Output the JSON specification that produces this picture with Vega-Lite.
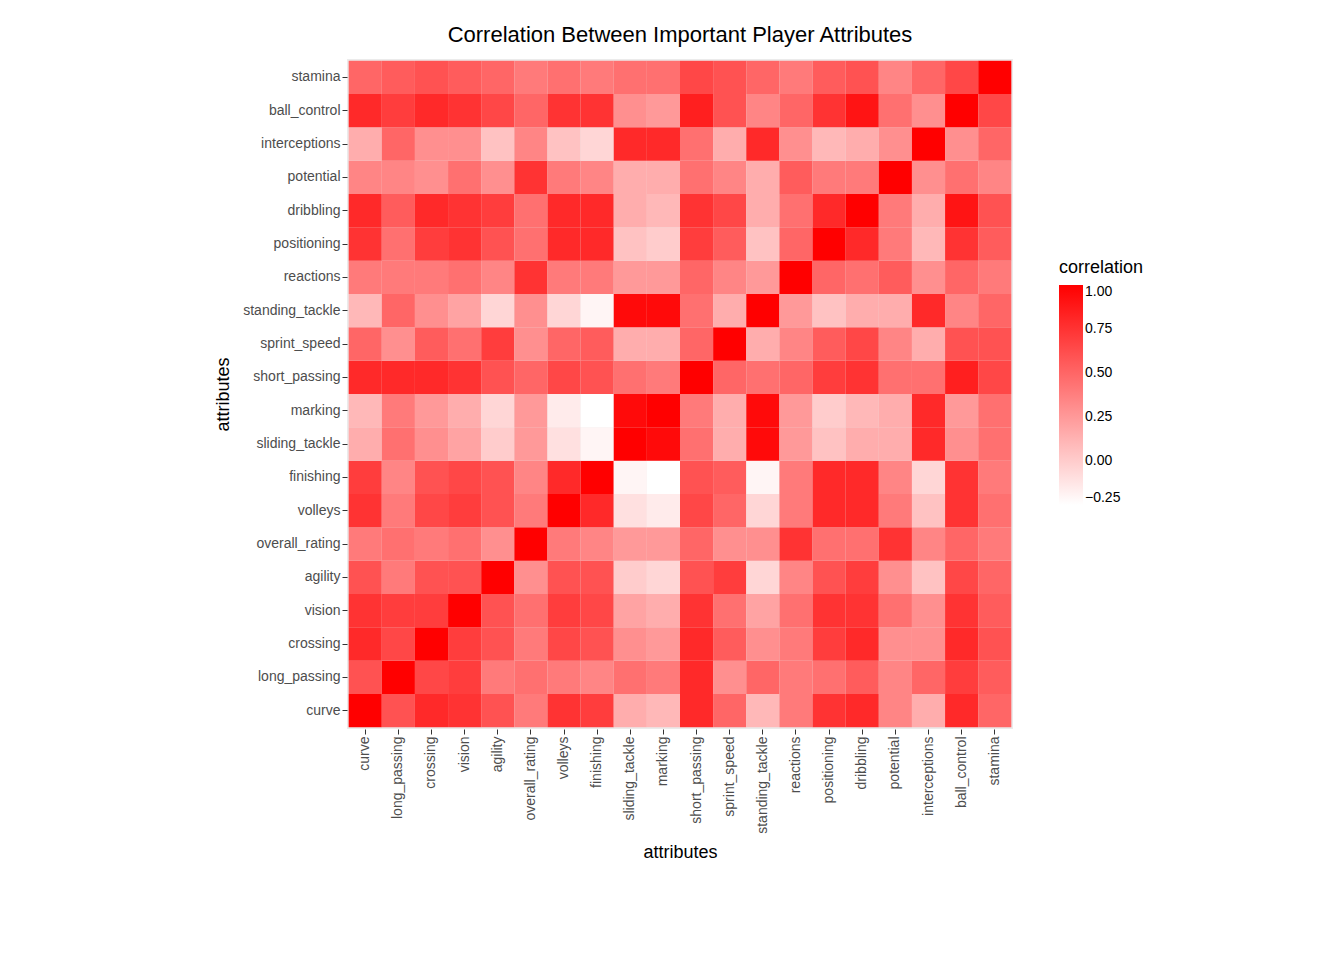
{
"$schema":"https://vega.github.io/schema/vega-lite/v6.json",
"width":666,"height":670,
"background":"white",
"padding":{"left":214,"top":24,"right":30,"bottom":10},
"title":{"text":"Correlation Between Important Player Attributes","fontSize":22,"font":"Liberation Sans","fontWeight":"normal","color":"black","anchor":"middle","offset":12},
"data":{"values":[
{"y":"curve","x":"curve","v":1},{"y":"curve","x":"long_passing","v":0.6},{"y":"curve","x":"crossing","v":0.8},{"y":"curve","x":"vision","v":0.75},{"y":"curve","x":"agility","v":0.6},{"y":"curve","x":"overall_rating","v":0.4},{"y":"curve","x":"volleys","v":0.75},{"y":"curve","x":"finishing","v":0.7},{"y":"curve","x":"sliding_tackle","v":0.15},{"y":"curve","x":"marking","v":0.1},{"y":"curve","x":"short_passing","v":0.8},{"y":"curve","x":"sprint_speed","v":0.5},{"y":"curve","x":"standing_tackle","v":0.1},{"y":"curve","x":"reactions","v":0.4},{"y":"curve","x":"positioning","v":0.75},{"y":"curve","x":"dribbling","v":0.8},{"y":"curve","x":"potential","v":0.35},{"y":"curve","x":"interceptions","v":0.15},{"y":"curve","x":"ball_control","v":0.8},{"y":"curve","x":"stamina","v":0.5},
{"y":"long_passing","x":"curve","v":0.6},{"y":"long_passing","x":"long_passing","v":1},{"y":"long_passing","x":"crossing","v":0.65},{"y":"long_passing","x":"vision","v":0.7},{"y":"long_passing","x":"agility","v":0.4},{"y":"long_passing","x":"overall_rating","v":0.45},{"y":"long_passing","x":"volleys","v":0.4},{"y":"long_passing","x":"finishing","v":0.35},{"y":"long_passing","x":"sliding_tackle","v":0.45},{"y":"long_passing","x":"marking","v":0.4},{"y":"long_passing","x":"short_passing","v":0.8},{"y":"long_passing","x":"sprint_speed","v":0.3},{"y":"long_passing","x":"standing_tackle","v":0.5},{"y":"long_passing","x":"reactions","v":0.4},{"y":"long_passing","x":"positioning","v":0.45},{"y":"long_passing","x":"dribbling","v":0.55},{"y":"long_passing","x":"potential","v":0.35},{"y":"long_passing","x":"interceptions","v":0.5},{"y":"long_passing","x":"ball_control","v":0.7},{"y":"long_passing","x":"stamina","v":0.55},
{"y":"crossing","x":"curve","v":0.8},{"y":"crossing","x":"long_passing","v":0.65},{"y":"crossing","x":"crossing","v":1},{"y":"crossing","x":"vision","v":0.7},{"y":"crossing","x":"agility","v":0.6},{"y":"crossing","x":"overall_rating","v":0.4},{"y":"crossing","x":"volleys","v":0.65},{"y":"crossing","x":"finishing","v":0.6},{"y":"crossing","x":"sliding_tackle","v":0.3},{"y":"crossing","x":"marking","v":0.25},{"y":"crossing","x":"short_passing","v":0.8},{"y":"crossing","x":"sprint_speed","v":0.55},{"y":"crossing","x":"standing_tackle","v":0.3},{"y":"crossing","x":"reactions","v":0.4},{"y":"crossing","x":"positioning","v":0.7},{"y":"crossing","x":"dribbling","v":0.8},{"y":"crossing","x":"potential","v":0.3},{"y":"crossing","x":"interceptions","v":0.3},{"y":"crossing","x":"ball_control","v":0.8},{"y":"crossing","x":"stamina","v":0.6},
{"y":"vision","x":"curve","v":0.75},{"y":"vision","x":"long_passing","v":0.7},{"y":"vision","x":"crossing","v":0.7},{"y":"vision","x":"vision","v":1},{"y":"vision","x":"agility","v":0.6},{"y":"vision","x":"overall_rating","v":0.45},{"y":"vision","x":"volleys","v":0.7},{"y":"vision","x":"finishing","v":0.65},{"y":"vision","x":"sliding_tackle","v":0.2},{"y":"vision","x":"marking","v":0.15},{"y":"vision","x":"short_passing","v":0.75},{"y":"vision","x":"sprint_speed","v":0.45},{"y":"vision","x":"standing_tackle","v":0.2},{"y":"vision","x":"reactions","v":0.45},{"y":"vision","x":"positioning","v":0.75},{"y":"vision","x":"dribbling","v":0.75},{"y":"vision","x":"potential","v":0.45},{"y":"vision","x":"interceptions","v":0.3},{"y":"vision","x":"ball_control","v":0.75},{"y":"vision","x":"stamina","v":0.55},
{"y":"agility","x":"curve","v":0.6},{"y":"agility","x":"long_passing","v":0.4},{"y":"agility","x":"crossing","v":0.6},{"y":"agility","x":"vision","v":0.6},{"y":"agility","x":"agility","v":1},{"y":"agility","x":"overall_rating","v":0.3},{"y":"agility","x":"volleys","v":0.6},{"y":"agility","x":"finishing","v":0.6},{"y":"agility","x":"sliding_tackle","v":0.0},{"y":"agility","x":"marking","v":-0.05},{"y":"agility","x":"short_passing","v":0.6},{"y":"agility","x":"sprint_speed","v":0.7},{"y":"agility","x":"standing_tackle","v":-0.05},{"y":"agility","x":"reactions","v":0.35},{"y":"agility","x":"positioning","v":0.6},{"y":"agility","x":"dribbling","v":0.7},{"y":"agility","x":"potential","v":0.3},{"y":"agility","x":"interceptions","v":0.05},{"y":"agility","x":"ball_control","v":0.65},{"y":"agility","x":"stamina","v":0.5},
{"y":"overall_rating","x":"curve","v":0.4},{"y":"overall_rating","x":"long_passing","v":0.45},{"y":"overall_rating","x":"crossing","v":0.4},{"y":"overall_rating","x":"vision","v":0.45},{"y":"overall_rating","x":"agility","v":0.3},{"y":"overall_rating","x":"overall_rating","v":1},{"y":"overall_rating","x":"volleys","v":0.4},{"y":"overall_rating","x":"finishing","v":0.35},{"y":"overall_rating","x":"sliding_tackle","v":0.25},{"y":"overall_rating","x":"marking","v":0.25},{"y":"overall_rating","x":"short_passing","v":0.5},{"y":"overall_rating","x":"sprint_speed","v":0.3},{"y":"overall_rating","x":"standing_tackle","v":0.3},{"y":"overall_rating","x":"reactions","v":0.75},{"y":"overall_rating","x":"positioning","v":0.45},{"y":"overall_rating","x":"dribbling","v":0.45},{"y":"overall_rating","x":"potential","v":0.75},{"y":"overall_rating","x":"interceptions","v":0.35},{"y":"overall_rating","x":"ball_control","v":0.5},{"y":"overall_rating","x":"stamina","v":0.4},
{"y":"volleys","x":"curve","v":0.75},{"y":"volleys","x":"long_passing","v":0.4},{"y":"volleys","x":"crossing","v":0.65},{"y":"volleys","x":"vision","v":0.7},{"y":"volleys","x":"agility","v":0.6},{"y":"volleys","x":"overall_rating","v":0.4},{"y":"volleys","x":"volleys","v":1},{"y":"volleys","x":"finishing","v":0.8},{"y":"volleys","x":"sliding_tackle","v":-0.1},{"y":"volleys","x":"marking","v":-0.15},{"y":"volleys","x":"short_passing","v":0.65},{"y":"volleys","x":"sprint_speed","v":0.5},{"y":"volleys","x":"standing_tackle","v":-0.05},{"y":"volleys","x":"reactions","v":0.4},{"y":"volleys","x":"positioning","v":0.8},{"y":"volleys","x":"dribbling","v":0.8},{"y":"volleys","x":"potential","v":0.4},{"y":"volleys","x":"interceptions","v":0.05},{"y":"volleys","x":"ball_control","v":0.75},{"y":"volleys","x":"stamina","v":0.45},
{"y":"finishing","x":"curve","v":0.7},{"y":"finishing","x":"long_passing","v":0.35},{"y":"finishing","x":"crossing","v":0.6},{"y":"finishing","x":"vision","v":0.65},{"y":"finishing","x":"agility","v":0.6},{"y":"finishing","x":"overall_rating","v":0.35},{"y":"finishing","x":"volleys","v":0.8},{"y":"finishing","x":"finishing","v":1},{"y":"finishing","x":"sliding_tackle","v":-0.2},{"y":"finishing","x":"marking","v":-0.25},{"y":"finishing","x":"short_passing","v":0.6},{"y":"finishing","x":"sprint_speed","v":0.55},{"y":"finishing","x":"standing_tackle","v":-0.2},{"y":"finishing","x":"reactions","v":0.4},{"y":"finishing","x":"positioning","v":0.8},{"y":"finishing","x":"dribbling","v":0.8},{"y":"finishing","x":"potential","v":0.35},{"y":"finishing","x":"interceptions","v":-0.05},{"y":"finishing","x":"ball_control","v":0.75},{"y":"finishing","x":"stamina","v":0.4},
{"y":"sliding_tackle","x":"curve","v":0.15},{"y":"sliding_tackle","x":"long_passing","v":0.45},{"y":"sliding_tackle","x":"crossing","v":0.3},{"y":"sliding_tackle","x":"vision","v":0.2},{"y":"sliding_tackle","x":"agility","v":0.0},{"y":"sliding_tackle","x":"overall_rating","v":0.25},{"y":"sliding_tackle","x":"volleys","v":-0.1},{"y":"sliding_tackle","x":"finishing","v":-0.2},{"y":"sliding_tackle","x":"sliding_tackle","v":1},{"y":"sliding_tackle","x":"marking","v":0.95},{"y":"sliding_tackle","x":"short_passing","v":0.45},{"y":"sliding_tackle","x":"sprint_speed","v":0.15},{"y":"sliding_tackle","x":"standing_tackle","v":0.95},{"y":"sliding_tackle","x":"reactions","v":0.25},{"y":"sliding_tackle","x":"positioning","v":0.05},{"y":"sliding_tackle","x":"dribbling","v":0.15},{"y":"sliding_tackle","x":"potential","v":0.15},{"y":"sliding_tackle","x":"interceptions","v":0.8},{"y":"sliding_tackle","x":"ball_control","v":0.3},{"y":"sliding_tackle","x":"stamina","v":0.45},
{"y":"marking","x":"curve","v":0.1},{"y":"marking","x":"long_passing","v":0.4},{"y":"marking","x":"crossing","v":0.25},{"y":"marking","x":"vision","v":0.15},{"y":"marking","x":"agility","v":-0.05},{"y":"marking","x":"overall_rating","v":0.25},{"y":"marking","x":"volleys","v":-0.15},{"y":"marking","x":"finishing","v":-0.25},{"y":"marking","x":"sliding_tackle","v":0.95},{"y":"marking","x":"marking","v":1},{"y":"marking","x":"short_passing","v":0.4},{"y":"marking","x":"sprint_speed","v":0.15},{"y":"marking","x":"standing_tackle","v":0.95},{"y":"marking","x":"reactions","v":0.25},{"y":"marking","x":"positioning","v":0.0},{"y":"marking","x":"dribbling","v":0.1},{"y":"marking","x":"potential","v":0.15},{"y":"marking","x":"interceptions","v":0.8},{"y":"marking","x":"ball_control","v":0.25},{"y":"marking","x":"stamina","v":0.45},
{"y":"short_passing","x":"curve","v":0.8},{"y":"short_passing","x":"long_passing","v":0.8},{"y":"short_passing","x":"crossing","v":0.8},{"y":"short_passing","x":"vision","v":0.75},{"y":"short_passing","x":"agility","v":0.6},{"y":"short_passing","x":"overall_rating","v":0.5},{"y":"short_passing","x":"volleys","v":0.65},{"y":"short_passing","x":"finishing","v":0.6},{"y":"short_passing","x":"sliding_tackle","v":0.45},{"y":"short_passing","x":"marking","v":0.4},{"y":"short_passing","x":"short_passing","v":1},{"y":"short_passing","x":"sprint_speed","v":0.5},{"y":"short_passing","x":"standing_tackle","v":0.45},{"y":"short_passing","x":"reactions","v":0.5},{"y":"short_passing","x":"positioning","v":0.7},{"y":"short_passing","x":"dribbling","v":0.75},{"y":"short_passing","x":"potential","v":0.45},{"y":"short_passing","x":"interceptions","v":0.45},{"y":"short_passing","x":"ball_control","v":0.85},{"y":"short_passing","x":"stamina","v":0.65},
{"y":"sprint_speed","x":"curve","v":0.5},{"y":"sprint_speed","x":"long_passing","v":0.3},{"y":"sprint_speed","x":"crossing","v":0.55},{"y":"sprint_speed","x":"vision","v":0.45},{"y":"sprint_speed","x":"agility","v":0.7},{"y":"sprint_speed","x":"overall_rating","v":0.3},{"y":"sprint_speed","x":"volleys","v":0.5},{"y":"sprint_speed","x":"finishing","v":0.55},{"y":"sprint_speed","x":"sliding_tackle","v":0.15},{"y":"sprint_speed","x":"marking","v":0.15},{"y":"sprint_speed","x":"short_passing","v":0.5},{"y":"sprint_speed","x":"sprint_speed","v":1},{"y":"sprint_speed","x":"standing_tackle","v":0.15},{"y":"sprint_speed","x":"reactions","v":0.35},{"y":"sprint_speed","x":"positioning","v":0.55},{"y":"sprint_speed","x":"dribbling","v":0.65},{"y":"sprint_speed","x":"potential","v":0.35},{"y":"sprint_speed","x":"interceptions","v":0.15},{"y":"sprint_speed","x":"ball_control","v":0.6},{"y":"sprint_speed","x":"stamina","v":0.6},
{"y":"standing_tackle","x":"curve","v":0.1},{"y":"standing_tackle","x":"long_passing","v":0.5},{"y":"standing_tackle","x":"crossing","v":0.3},{"y":"standing_tackle","x":"vision","v":0.2},{"y":"standing_tackle","x":"agility","v":-0.05},{"y":"standing_tackle","x":"overall_rating","v":0.3},{"y":"standing_tackle","x":"volleys","v":-0.05},{"y":"standing_tackle","x":"finishing","v":-0.2},{"y":"standing_tackle","x":"sliding_tackle","v":0.95},{"y":"standing_tackle","x":"marking","v":0.95},{"y":"standing_tackle","x":"short_passing","v":0.45},{"y":"standing_tackle","x":"sprint_speed","v":0.15},{"y":"standing_tackle","x":"standing_tackle","v":1},{"y":"standing_tackle","x":"reactions","v":0.25},{"y":"standing_tackle","x":"positioning","v":0.05},{"y":"standing_tackle","x":"dribbling","v":0.15},{"y":"standing_tackle","x":"potential","v":0.15},{"y":"standing_tackle","x":"interceptions","v":0.8},{"y":"standing_tackle","x":"ball_control","v":0.35},{"y":"standing_tackle","x":"stamina","v":0.5},
{"y":"reactions","x":"curve","v":0.4},{"y":"reactions","x":"long_passing","v":0.4},{"y":"reactions","x":"crossing","v":0.4},{"y":"reactions","x":"vision","v":0.45},{"y":"reactions","x":"agility","v":0.35},{"y":"reactions","x":"overall_rating","v":0.75},{"y":"reactions","x":"volleys","v":0.4},{"y":"reactions","x":"finishing","v":0.4},{"y":"reactions","x":"sliding_tackle","v":0.25},{"y":"reactions","x":"marking","v":0.25},{"y":"reactions","x":"short_passing","v":0.5},{"y":"reactions","x":"sprint_speed","v":0.35},{"y":"reactions","x":"standing_tackle","v":0.25},{"y":"reactions","x":"reactions","v":1},{"y":"reactions","x":"positioning","v":0.5},{"y":"reactions","x":"dribbling","v":0.45},{"y":"reactions","x":"potential","v":0.55},{"y":"reactions","x":"interceptions","v":0.3},{"y":"reactions","x":"ball_control","v":0.5},{"y":"reactions","x":"stamina","v":0.4},
{"y":"positioning","x":"curve","v":0.75},{"y":"positioning","x":"long_passing","v":0.45},{"y":"positioning","x":"crossing","v":0.7},{"y":"positioning","x":"vision","v":0.75},{"y":"positioning","x":"agility","v":0.6},{"y":"positioning","x":"overall_rating","v":0.45},{"y":"positioning","x":"volleys","v":0.8},{"y":"positioning","x":"finishing","v":0.8},{"y":"positioning","x":"sliding_tackle","v":0.05},{"y":"positioning","x":"marking","v":0.0},{"y":"positioning","x":"short_passing","v":0.7},{"y":"positioning","x":"sprint_speed","v":0.55},{"y":"positioning","x":"standing_tackle","v":0.05},{"y":"positioning","x":"reactions","v":0.5},{"y":"positioning","x":"positioning","v":1},{"y":"positioning","x":"dribbling","v":0.8},{"y":"positioning","x":"potential","v":0.4},{"y":"positioning","x":"interceptions","v":0.1},{"y":"positioning","x":"ball_control","v":0.75},{"y":"positioning","x":"stamina","v":0.55},
{"y":"dribbling","x":"curve","v":0.8},{"y":"dribbling","x":"long_passing","v":0.55},{"y":"dribbling","x":"crossing","v":0.8},{"y":"dribbling","x":"vision","v":0.75},{"y":"dribbling","x":"agility","v":0.7},{"y":"dribbling","x":"overall_rating","v":0.45},{"y":"dribbling","x":"volleys","v":0.8},{"y":"dribbling","x":"finishing","v":0.8},{"y":"dribbling","x":"sliding_tackle","v":0.15},{"y":"dribbling","x":"marking","v":0.1},{"y":"dribbling","x":"short_passing","v":0.75},{"y":"dribbling","x":"sprint_speed","v":0.65},{"y":"dribbling","x":"standing_tackle","v":0.15},{"y":"dribbling","x":"reactions","v":0.45},{"y":"dribbling","x":"positioning","v":0.8},{"y":"dribbling","x":"dribbling","v":1},{"y":"dribbling","x":"potential","v":0.4},{"y":"dribbling","x":"interceptions","v":0.15},{"y":"dribbling","x":"ball_control","v":0.9},{"y":"dribbling","x":"stamina","v":0.6},
{"y":"potential","x":"curve","v":0.35},{"y":"potential","x":"long_passing","v":0.35},{"y":"potential","x":"crossing","v":0.3},{"y":"potential","x":"vision","v":0.45},{"y":"potential","x":"agility","v":0.3},{"y":"potential","x":"overall_rating","v":0.75},{"y":"potential","x":"volleys","v":0.4},{"y":"potential","x":"finishing","v":0.35},{"y":"potential","x":"sliding_tackle","v":0.15},{"y":"potential","x":"marking","v":0.15},{"y":"potential","x":"short_passing","v":0.45},{"y":"potential","x":"sprint_speed","v":0.35},{"y":"potential","x":"standing_tackle","v":0.15},{"y":"potential","x":"reactions","v":0.55},{"y":"potential","x":"positioning","v":0.4},{"y":"potential","x":"dribbling","v":0.4},{"y":"potential","x":"potential","v":1},{"y":"potential","x":"interceptions","v":0.3},{"y":"potential","x":"ball_control","v":0.45},{"y":"potential","x":"stamina","v":0.35},
{"y":"interceptions","x":"curve","v":0.15},{"y":"interceptions","x":"long_passing","v":0.5},{"y":"interceptions","x":"crossing","v":0.3},{"y":"interceptions","x":"vision","v":0.3},{"y":"interceptions","x":"agility","v":0.05},{"y":"interceptions","x":"overall_rating","v":0.35},{"y":"interceptions","x":"volleys","v":0.05},{"y":"interceptions","x":"finishing","v":-0.05},{"y":"interceptions","x":"sliding_tackle","v":0.8},{"y":"interceptions","x":"marking","v":0.8},{"y":"interceptions","x":"short_passing","v":0.45},{"y":"interceptions","x":"sprint_speed","v":0.15},{"y":"interceptions","x":"standing_tackle","v":0.8},{"y":"interceptions","x":"reactions","v":0.3},{"y":"interceptions","x":"positioning","v":0.1},{"y":"interceptions","x":"dribbling","v":0.15},{"y":"interceptions","x":"potential","v":0.3},{"y":"interceptions","x":"interceptions","v":1},{"y":"interceptions","x":"ball_control","v":0.3},{"y":"interceptions","x":"stamina","v":0.5},
{"y":"ball_control","x":"curve","v":0.8},{"y":"ball_control","x":"long_passing","v":0.7},{"y":"ball_control","x":"crossing","v":0.8},{"y":"ball_control","x":"vision","v":0.75},{"y":"ball_control","x":"agility","v":0.65},{"y":"ball_control","x":"overall_rating","v":0.5},{"y":"ball_control","x":"volleys","v":0.75},{"y":"ball_control","x":"finishing","v":0.75},{"y":"ball_control","x":"sliding_tackle","v":0.3},{"y":"ball_control","x":"marking","v":0.25},{"y":"ball_control","x":"short_passing","v":0.85},{"y":"ball_control","x":"sprint_speed","v":0.6},{"y":"ball_control","x":"standing_tackle","v":0.35},{"y":"ball_control","x":"reactions","v":0.5},{"y":"ball_control","x":"positioning","v":0.75},{"y":"ball_control","x":"dribbling","v":0.9},{"y":"ball_control","x":"potential","v":0.45},{"y":"ball_control","x":"interceptions","v":0.3},{"y":"ball_control","x":"ball_control","v":1},{"y":"ball_control","x":"stamina","v":0.65},
{"y":"stamina","x":"curve","v":0.5},{"y":"stamina","x":"long_passing","v":0.55},{"y":"stamina","x":"crossing","v":0.6},{"y":"stamina","x":"vision","v":0.55},{"y":"stamina","x":"agility","v":0.5},{"y":"stamina","x":"overall_rating","v":0.4},{"y":"stamina","x":"volleys","v":0.45},{"y":"stamina","x":"finishing","v":0.4},{"y":"stamina","x":"sliding_tackle","v":0.45},{"y":"stamina","x":"marking","v":0.45},{"y":"stamina","x":"short_passing","v":0.65},{"y":"stamina","x":"sprint_speed","v":0.6},{"y":"stamina","x":"standing_tackle","v":0.5},{"y":"stamina","x":"reactions","v":0.4},{"y":"stamina","x":"positioning","v":0.55},{"y":"stamina","x":"dribbling","v":0.6},{"y":"stamina","x":"potential","v":0.35},{"y":"stamina","x":"interceptions","v":0.5},{"y":"stamina","x":"ball_control","v":0.65},{"y":"stamina","x":"stamina","v":1}
]},
"mark":{"type":"rect"},
"encoding":{
"x":{"field":"x","type":"nominal","title":"attributes","sort":null,"scale":{"paddingInner":0,"paddingOuter":0.05},
"axis":{"labelAngle":-90,"labelAlign":"right","labelBaseline":"middle","labelFontSize":14,"labelColor":"#4d4d4d","titleFontSize":18,"titleFontWeight":"normal","titleColor":"black","tickColor":"#333","tickSize":5,"domain":false,"labelFont":"Liberation Sans","titleFont":"Liberation Sans","titlePadding":10}},
"y":{"field":"y","type":"nominal","title":"attributes","sort":["stamina","ball_control","interceptions","potential","dribbling","positioning","reactions","standing_tackle","sprint_speed","short_passing","marking","sliding_tackle","finishing","volleys","overall_rating","agility","vision","crossing","long_passing","curve"],"scale":{"paddingInner":0,"paddingOuter":0.05},
"axis":{"labelFontSize":14,"labelColor":"#4d4d4d","titleFontSize":18,"titleFontWeight":"normal","titleColor":"black","tickColor":"#333","tickSize":5,"domain":false,"labelFont":"Liberation Sans","titleFont":"Liberation Sans","titlePadding":10}},
"color":{"field":"v","type":"quantitative","title":"correlation","scale":{"domain":[-0.25,1],"range":["#ffffff","#ff0000"],"interpolate":"rgb"},
"legend":{"orient":"none","legendX":712,"legendY":200,"format":".2f","gradientLength":220,"gradientThickness":24,"titleFontSize":18,"titleFontWeight":"normal","titleColor":"black","titlePadding":8,"labelFontSize":14,"labelColor":"black","titleFont":"Liberation Sans","labelFont":"Liberation Sans","values":[-0.25,0,0.25,0.5,0.75,1],"direction":"vertical","tickColor":"white"}}
},
"config":{"view":{"fill":"#ebebeb","stroke":null}}
}
